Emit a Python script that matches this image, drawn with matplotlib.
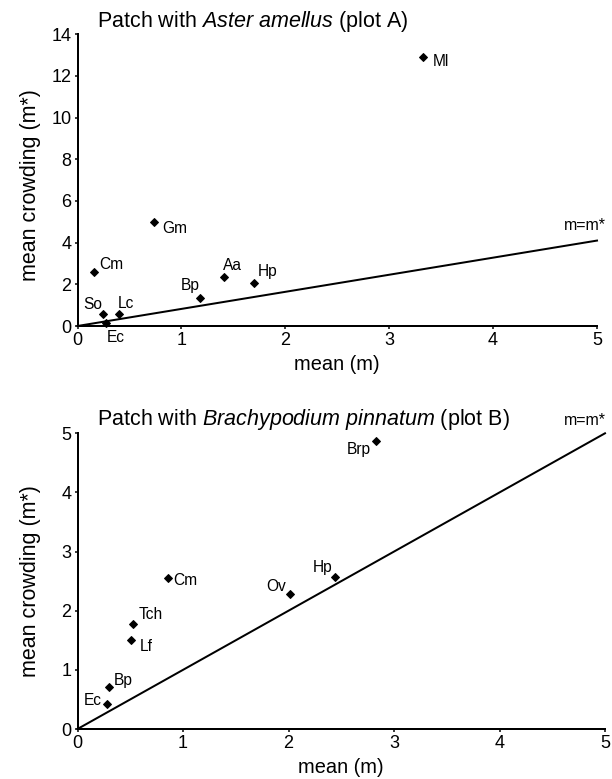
import matplotlib
matplotlib.use("Agg")
import matplotlib.pyplot as plt

plt.rcParams['font.family'] = ['Liberation Sans', 'DejaVu Sans']
plt.rcParams['mathtext.fontset'] = 'custom'
plt.rcParams['mathtext.rm'] = 'Liberation Sans'
plt.rcParams['mathtext.it'] = 'Liberation Sans:italic'

# Plot A data
a_labels = ["Ml", "Gm", "Cm", "Aa", "Hp", "Bp", "So", "Lc", "Ec"]
a_mean = [3.33, 0.74, 0.16, 1.41, 1.70, 1.18, 0.25, 0.40, 0.27]
a_crowd = [12.9, 4.99, 2.61, 2.37, 2.05, 1.36, 0.56, 0.56, 0.16]
a_line_x = [0, 5]
a_line_y = [0, 4.1]

# Plot B data
b_labels = ["Brp", "Hp", "Ov", "Cm", "Tch", "Lf", "Bp", "Ec"]
b_mean = [2.83, 2.44, 2.01, 0.855, 0.53, 0.51, 0.296, 0.28]
b_crowd = [4.87, 2.57, 2.28, 2.55, 1.78, 1.50, 0.71, 0.42]
b_line_x = [0, 5]
b_line_y = [0, 5]

# label offsets (pixels: dx right, dy up) and horizontal alignment
a_off = {"Ml": (9, -4, 'left'), "Gm": (8, -6, 'left'), "Cm": (5, 7, 'left'),
         "Aa": (-1, 11, 'left'), "Hp": (4, 12, 'left'), "Bp": (0, 12, 'right'),
         "So": (-1, 10, 'right'), "Lc": (-1, 11, 'left'), "Ec": (1, -15, 'left')}
b_off = {"Brp": (-5, -9, 'right'), "Hp": (-2.5, 10, 'right'), "Ov": (-3.5, 8, 'right'),
         "Cm": (6, -2, 'left'), "Tch": (5, 9, 'left'), "Lf": (8, -6, 'left'),
         "Bp": (5, 7, 'left'), "Ec": (-5, 4, 'right')}

W, H = 612, 779
fig = plt.figure(figsize=(W / 72, H / 72), dpi=72)

def px_axes(l, t, r, b):
    return fig.add_axes([l / W, 1 - b / H, (r - l) / W, (b - t) / H])

ax1 = px_axes(77.5, 34.3, 597, 326)
ax2 = px_axes(77.5, 433.3, 605, 729)

def style(ax, ymax, yticks, xl_y, yl_x, yl_y):
    ax.set_xlim(0, 5)
    ax.set_ylim(0, ymax)
    ax.set_xticks(range(0, 6))
    ax.set_yticks(yticks)
    for s in ['top', 'right']:
        ax.spines[s].set_visible(False)
    for s in ['left', 'bottom']:
        ax.spines[s].set_linewidth(2)
    ax.tick_params(direction='out', length=3, width=1.5, labelsize=18, pad=3)
    ax.set_xlabel("mean (m)", fontsize=20)
    ax.set_ylabel("mean crowding (m*)", fontsize=21.5, va='center')
    ax.xaxis.set_label_coords(0.5, xl_y)
    ax.yaxis.set_label_coords(yl_x, yl_y)

style(ax1, 14, range(0, 15, 2), -0.100, -0.0914, 0.483)
style(ax2, 5, range(0, 6), -0.098, -0.090, 0.50)

for ax, xs, ys, labs, off, lx, ly, mo in [
        (ax1, a_mean, a_crowd, a_labels, a_off, a_line_x, a_line_y, (9, 15)),
        (ax2, b_mean, b_crowd, b_labels, b_off, b_line_x, b_line_y, (1, 13))]:
    ax.plot(lx, ly, color='black', lw=2, clip_on=False)
    ax.plot(xs, ys, 'D', color='black', markersize=5.5, clip_on=False)
    for x, y, lab in zip(xs, ys, labs):
        dx, dy, ha = off[lab]
        ax.annotate(lab, (x, y), xytext=(dx, dy), textcoords='offset points',
                    ha=ha, va='center', fontsize=15.5)
    ax.annotate("m=m*", (lx[1], ly[1]), xytext=mo, textcoords='offset points',
                ha='right', va='center', fontsize=16, annotation_clip=False)

fig.text(96.7 / W, 1 - 21.7 / H, r"Patch with $\it{Aster\ amellus}$ (plot A)",
         fontsize=21.5, ha='left', va='center')
fig.text(96.7 / W, 1 - 419.3 / H, r"Patch with $\it{Brachypodium\ pinnatum}$ (plot B)",
         fontsize=21.5, ha='left', va='center')

fig.savefig("out.png", dpi=72)
